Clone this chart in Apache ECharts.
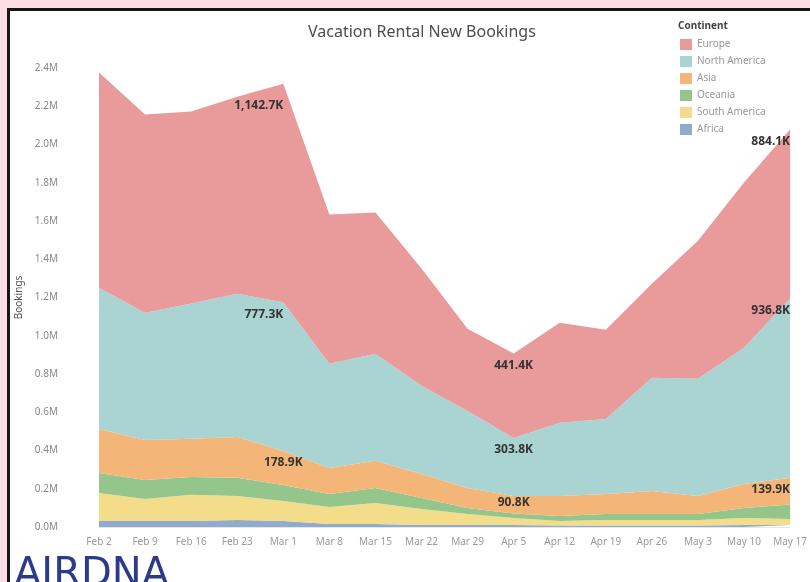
<!DOCTYPE html>
<html>
<head>
<meta charset="utf-8">
<script src="https://cdn.jsdelivr.net/npm/echarts@6/dist/echarts.min.js"></script>
<style>
  html, body { margin: 0; padding: 0; background: #fbdde5; }
  #frame { position: absolute; left: 7px; top: 8px; width: 803px; height: 574px;
           border-left: 3px solid #151515; border-top: 3px solid #151515; background: #fff; }
  #container { position: absolute; left: 0; top: 0; width: 810px; height: 582px; }
</style>
</head>
<body>
<div id="frame"></div>
<div id="container"></div>
<script>
// weekly new bookings, in thousands
var weeks = ['Feb 2','Feb 9','Feb 16','Feb 23','Mar 1','Mar 8','Mar 15','Mar 22','Mar 29','Apr 5','Apr 12','Apr 19','Apr 26','May 3','May 10','May 17'];
var europe        = [1126, 1037, 1005, 1030, 1142.7, 781, 738, 613, 430, 441.4, 523, 466, 492, 722, 864, 884.1];
var northAmerica  = [738, 665, 707, 749, 777.3, 544, 560, 461, 403, 303.8, 383, 392, 592, 613, 712, 936.8];
var asia          = [230, 209, 199, 214, 178.9, 136, 142, 125, 105, 90.8, 104, 105, 120, 94, 126, 139.9];
var oceania       = [105, 99, 94, 95, 83, 68, 78, 58, 31, 24, 27, 31, 31, 31, 52, 76];
var southAmerica  = [147, 116, 137, 125, 105, 89, 110, 84, 58, 37, 23, 29, 29, 29, 37, 32];
var africa        = [31, 31, 31, 37, 31, 16, 16, 10, 10, 10, 8, 8, 8, 8, 10, 10];
var legendNames = ['Europe','North America','Asia','Oceania','South America','Africa'];
var labeledWeeks = [4, 9, 15];

var dom = document.getElementById('container');
var myChart = echarts.init(dom, null, { renderer: 'canvas' });

function fmtK(v) {
    return v.toLocaleString('en-US', { minimumFractionDigits: 1, maximumFractionDigits: 1 }) + 'K';
}

// where Tableau put its mark labels
function labelFor(name, i) {
    var lb = {
        show: true, position: 'bottom', distance: 6,
        color: '#333', fontSize: 12, fontWeight: 'bold', fontFamily: 'Noto Sans',
        formatter: function (p) { return fmtK(p.value); }
    };
    if (i === 15) lb.align = 'right';
    if (i === 4 && name !== 'Asia') lb.align = 'right';
    if (i === 4 && name === 'Europe') lb.offset = [0, 10];
    if (i === 9 && name === 'Asia') lb.offset = [0, -5];
    return lb;
}

function makeSeries(name, values, color, withLabels) {
    return {
        name: name,
        type: 'line',
        stack: 'total',
        showSymbol: true,
        symbol: 'circle',
        symbolSize: 0,
        lineStyle: { width: 0 },
        areaStyle: { color: color, opacity: 1 },
        itemStyle: { color: color },
        emphasis: { disabled: true },
        data: values.map(function (v, i) {
            var d = { value: v };
            if (withLabels && labeledWeeks.indexOf(i) >= 0) d.label = labelFor(name, i);
            return d;
        })
    };
}

var option = {
    animation: false,
    title: {
        text: 'Vacation Rental New Bookings',
        left: 303, top: 19,
        textStyle: { fontSize: 16, fontWeight: 'normal', color: '#4d4d4d', fontFamily: 'Noto Sans' }
    },
    legend: {
        orient: 'vertical',
        left: 680, top: 39, padding: 0,
        itemWidth: 12, itemHeight: 11, itemGap: 6,
        icon: 'rect',
        textStyle: { color: '#999', fontSize: 10, lineHeight: 11, fontFamily: 'Noto Sans' },
        data: legendNames
    },
    graphic: [
        { type: 'text', left: 678, top: 21,
          style: { text: 'Continent', fill: '#444', font: 'bold 10px "Noto Sans"' } },
        { type: 'text', left: 14, top: 556,
          style: { text: 'AIRDNA', fill: '#2c3a8c', font: '40px "DejaVu Sans"' } }
    ],
    grid: { left: 99, right: 10, top: 68, bottom: 55 },
    xAxis: {
        type: 'category',
        boundaryGap: false,
        data: weeks,
        axisLine: { show: true, lineStyle: { color: '#e6e6e6' } },
        axisTick: { show: false },
        splitLine: { show: false },
        axisLabel: { color: '#999', fontSize: 10, margin: 10, fontFamily: 'Noto Sans', interval: 0 }
    },
    yAxis: {
        type: 'value',
        min: 0, max: 2400, interval: 200,
        name: 'Bookings', nameLocation: 'middle', nameGap: 71,
        nameTextStyle: { color: '#555', fontSize: 10, fontFamily: 'Noto Sans' },
        axisLine: { show: false },
        axisTick: { show: false },
        splitLine: { show: false },
        axisLabel: {
            color: '#888', fontSize: 10, margin: 41, fontFamily: 'Noto Sans',
            formatter: function (v) { return (v / 1000).toFixed(1) + 'M'; }
        }
    },
    series: [
        makeSeries('Africa', africa, '#8facce', false),
        makeSeries('South America', southAmerica, '#f3dc8a', false),
        makeSeries('Oceania', oceania, '#94c68c', false),
        makeSeries('Asia', asia, '#f4b678', true),
        makeSeries('North America', northAmerica, '#aad4d1', true),
        makeSeries('Europe', europe, '#e99a9b', true)
    ]
};

if (option && typeof option === 'object') {
    myChart.setOption(option, true);
}
</script>
</body>
</html>
